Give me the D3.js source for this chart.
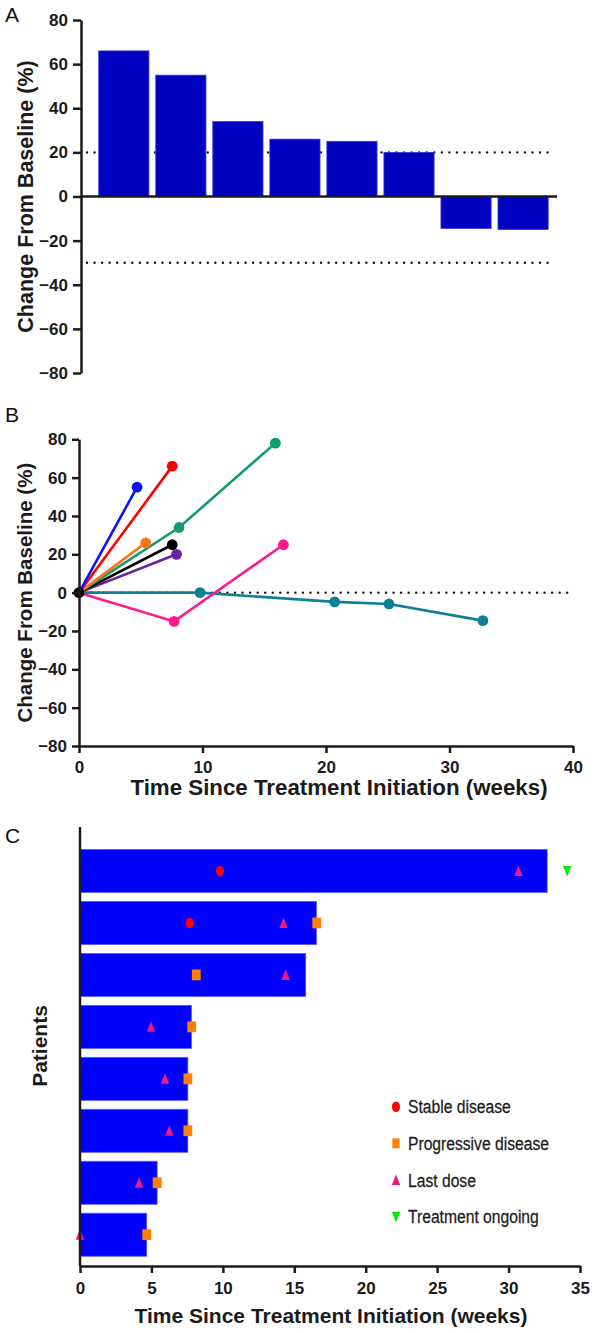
<!DOCTYPE html>
<html>
<head>
<meta charset="utf-8">
<script src="https://cdn.jsdelivr.net/npm/d3@7"></script>
<style>
  html, body { margin: 0; padding: 0; background: #fff; }
  svg { display: block; }
</style>
</head>
<body>
<div id="chart"></div>
<script>
// ---------------- DATA ----------------
// Panel A: best change from baseline per patient (%)
const patientsA = ["P1", "P2", "P3", "P4", "P5", "P6", "P7", "P8"];
const bestChange = [66, 55, 34, 26, 25, 20, -14.5, -15];
const thresholdsA = [20, -30];
const yTicksChange = [80, 60, 40, 20, 0, -20, -40, -60, -80];

// Panel B: change from baseline over time (weeks, %)
const seriesNames = ["teal", "pink", "purple", "black", "green", "orange", "red", "blue"];
const seriesColors = ["#0f7f98", "#ff1a8c", "#6a22a0", "#000000", "#119c6c", "#ff7315", "#ff0000", "#1010ff"];
const seriesWeeks = [
  [0, 9.8, 20.7, 25.1, 32.7],
  [0, 7.7, 16.55],
  [0, 7.9],
  [0, 7.55],
  [0, 8.1, 15.9],
  [0, 5.4],
  [0, 7.55],
  [0, 4.7]
];
const seriesValues = [
  [0, 0, -4.8, -5.9, -14.6],
  [0, -15, 25],
  [0, 20],
  [0, 25],
  [0, 34, 78],
  [0, 26],
  [0, 66],
  [0, 55]
];
const xTicksB = [0, 10, 20, 30, 40];

// Panel C: swimmer plot (weeks)
const patientsC = ["P1", "P2", "P3", "P4", "P5", "P6", "P7", "P8"];
const durationWeeks = [32.7, 16.55, 15.8, 7.8, 7.55, 7.55, 5.4, 4.67];
const stableWeek   = [9.8, 7.68, null, null, null, null, null, null];
const progressWeek = [null, 16.57, 8.14, 7.82, 7.55, 7.55, 5.4, 4.67];
const lastDoseWeek = [30.7, 14.25, 14.4, 4.97, 5.95, 6.25, 4.13, 0];
const ongoingWeek  = [34.1, null, null, null, null, null, null, null];
const xTicksC = [0, 5, 10, 15, 20, 25, 30, 35];
const legendLabels = ["Stable disease", "Progressive disease", "Last dose", "Treatment ongoing"];

// ---------------- STYLE ----------------
const FONT = "Arial, 'Liberation Sans', Helvetica, sans-serif";
const INK = "#1c1a1a";

const svg = d3.select("#chart").append("svg")
  .attr("width", 600).attr("height", 1333)
  .attr("font-family", FONT);

function styleAxis(g, fs) {
  g.select(".domain").attr("stroke", INK).attr("stroke-width", 2.5);
  g.selectAll(".tick line").attr("stroke", INK).attr("stroke-width", 2.5);
  g.selectAll(".tick text").attr("fill", INK).attr("font-size", fs)
    .attr("font-weight", "bold").attr("font-family", FONT);
}

function dotted(x1, x2, y) {
  svg.append("line")
    .attr("x1", x1).attr("x2", x2).attr("y1", y).attr("y2", y)
    .attr("stroke", "#111").attr("stroke-width", 2.4)
    .attr("stroke-linecap", "round").attr("stroke-dasharray", "0,7.55");
}

function panelLabel(t, x, y) {
  svg.append("text").attr("x", x).attr("y", y).text(t)
    .attr("font-size", 21).attr("fill", "#111");
}

// ---------------- PANEL A ----------------
panelLabel("A", 5, 22);
const yA = d3.scaleLinear().domain([-80, 80]).range([373, 20]);
const xA = d3.scaleBand().domain(patientsA).range([95.3, 551.6])
  .paddingInner(0.12).paddingOuter(0.06);

thresholdsA.forEach(t => dotted(87, 552, yA(t)));

svg.append("g").selectAll("rect").data(bestChange).join("rect")
  .attr("x", (d, i) => xA(patientsA[i]))
  .attr("width", xA.bandwidth())
  .attr("y", d => Math.min(yA(d), yA(0)))
  .attr("height", d => Math.abs(yA(d) - yA(0)))
  .attr("fill", "#0000c0").attr("stroke", "#3a3ad8").attr("stroke-width", 0.8);

svg.append("line").attr("x1", 81).attr("x2", 557)
  .attr("y1", yA(0)).attr("y2", yA(0))
  .attr("stroke", INK).attr("stroke-width", 2.5);

const gAy = svg.append("g").attr("transform", "translate(81,0)")
  .call(d3.axisLeft(yA).tickValues(yTicksChange).tickSize(8).tickSizeOuter(0).tickPadding(5));
styleAxis(gAy, 17);

svg.append("text")
  .attr("transform", `translate(33,${yA(0)}) rotate(-90)`)
  .attr("text-anchor", "middle").attr("font-weight", "bold")
  .attr("font-size", 21.5).attr("fill", INK)
  .text("Change From Baseline (%)");

// ---------------- PANEL B ----------------
panelLabel("B", 5, 422);
const yB = d3.scaleLinear().domain([-80, 80]).range([746, 439.3]);
const xB = d3.scaleLinear().domain([0, 40]).range([79, 573]);

dotted(84, 570, yB(0));

const lineB = d3.line().x(d => xB(d[0])).y(d => yB(d[1]));
seriesNames.forEach((name, s) => {
  const pts = seriesWeeks[s].map((w, i) => [w, seriesValues[s][i]]);
  const g = svg.append("g").attr("class", "series-" + name);
  g.append("path").datum(pts).attr("d", lineB)
    .attr("fill", "none").attr("stroke", seriesColors[s]).attr("stroke-width", 2.6);
  g.selectAll("circle").data(pts.slice(1)).join("circle")
    .attr("cx", d => xB(d[0])).attr("cy", d => yB(d[1])).attr("r", 5.4)
    .attr("fill", seriesColors[s]);
});
// common origin point
svg.append("circle").attr("cx", xB(0)).attr("cy", yB(0)).attr("r", 5.4).attr("fill", "#000");

const gBy = svg.append("g").attr("transform", "translate(79,0)")
  .call(d3.axisLeft(yB).tickValues(yTicksChange).tickSize(7).tickSizeOuter(0).tickPadding(5));
styleAxis(gBy, 17);
const gBx = svg.append("g").attr("transform", `translate(0,${yB(-80)})`)
  .call(d3.axisBottom(xB).tickValues(xTicksB).tickSize(7).tickSizeOuter(0).tickPadding(8));
styleAxis(gBx, 17);

svg.append("text")
  .attr("transform", `translate(32,${yB(0)}) rotate(-90)`)
  .attr("text-anchor", "middle").attr("font-weight", "bold")
  .attr("font-size", 20.5).attr("fill", INK)
  .text("Change From Baseline (%)");
svg.append("text")
  .attr("x", 339).attr("y", 795)
  .attr("text-anchor", "middle").attr("font-weight", "bold")
  .attr("font-size", 22.3).attr("fill", INK)
  .text("Time Since Treatment Initiation (weeks)");

// ---------------- PANEL C ----------------
panelLabel("C", 5, 843);
const xC = d3.scaleLinear().domain([0, 35]).range([80, 580]);
const yC = d3.scaleBand().domain(patientsC).range([845, 1260.7])
  .paddingInner(0.172).paddingOuter(0.086);
const bw = yC.bandwidth();

svg.append("g").selectAll("rect").data(durationWeeks).join("rect")
  .attr("x", xC(0)).attr("y", (d, i) => yC(patientsC[i]))
  .attr("width", d => xC(d) - xC(0)).attr("height", bw)
  .attr("fill", "#0000ff").attr("stroke", "#5a5aff").attr("stroke-width", 0.8);

const sym = {
  circle: d3.symbol().type(d3.symbolCircle).size(52)(),
  square: "M-4.4,-5.4H4.4V5.4H-4.4Z",
  up: "M0,-5.6L4.2,5L-4.2,5Z",
  down: "M0,5.6L4.2,-5L-4.2,-5Z"
};
const markerSets = [
  { weeks: stableWeek, path: sym.circle, color: "#ff0000", sy: 1.3 },
  { weeks: lastDoseWeek, path: sym.up, color: "#f0197f", sy: 1 },
  { weeks: progressWeek, path: sym.square, color: "#ff8000", sy: 1 },
  { weeks: ongoingWeek, path: sym.down, color: "#00ee00", sy: 1 }
];
markerSets.forEach(ms => {
  const pts = ms.weeks.map((w, i) => ({ w, i })).filter(d => d.w !== null);
  svg.append("g").selectAll("path").data(pts).join("path")
    .attr("d", ms.path)
    .attr("transform", d => `translate(${xC(d.w)},${yC(patientsC[d.i]) + bw / 2}) scale(1,${ms.sy})`)
    .attr("fill", ms.color);
});

// axes C
svg.append("line").attr("x1", xC(0)).attr("x2", xC(0)).attr("y1", 827).attr("y2", 1266)
  .attr("stroke", INK).attr("stroke-width", 2.5);
const gCx = svg.append("g").attr("transform", "translate(0,1266)")
  .call(d3.axisBottom(xC).tickValues(xTicksC).tickSize(7).tickSizeOuter(0).tickPadding(9));
styleAxis(gCx, 17);

svg.append("text")
  .attr("transform", `translate(47,1046) rotate(-90)`)
  .attr("text-anchor", "middle").attr("font-weight", "bold")
  .attr("font-size", 21).attr("fill", INK)
  .text("Patients");
svg.append("text")
  .attr("x", 331).attr("y", 1323)
  .attr("text-anchor", "middle").attr("font-weight", "bold")
  .attr("font-size", 21).attr("fill", INK)
  .text("Time Since Treatment Initiation (weeks)");

// legend
const legendSyms = [
  { path: sym.circle, color: "#ff0000", sy: 1.3 },
  { path: "M-3.6,-5H3.6V5H-3.6Z", color: "#ff8000", sy: 1 },
  { path: sym.up, color: "#f0197f", sy: 1 },
  { path: sym.down, color: "#00ee00", sy: 1 }
];
const legY = d3.scalePoint().domain(legendLabels).range([1106.7, 1216.7]);
const leg = svg.append("g");
legendLabels.forEach((lab, i) => {
  leg.append("path").attr("d", legendSyms[i].path)
    .attr("transform", `translate(396,${legY(lab)}) scale(1,${legendSyms[i].sy})`)
    .attr("fill", legendSyms[i].color);
  leg.append("text")
    .attr("transform", `translate(408,${legY(lab) + 6.6}) scale(0.87,1)`)
    .attr("font-size", 18).attr("fill", INK)
    .attr("stroke", INK).attr("stroke-width", 0.25)
    .text(lab);
});
</script>
</body>
</html>
